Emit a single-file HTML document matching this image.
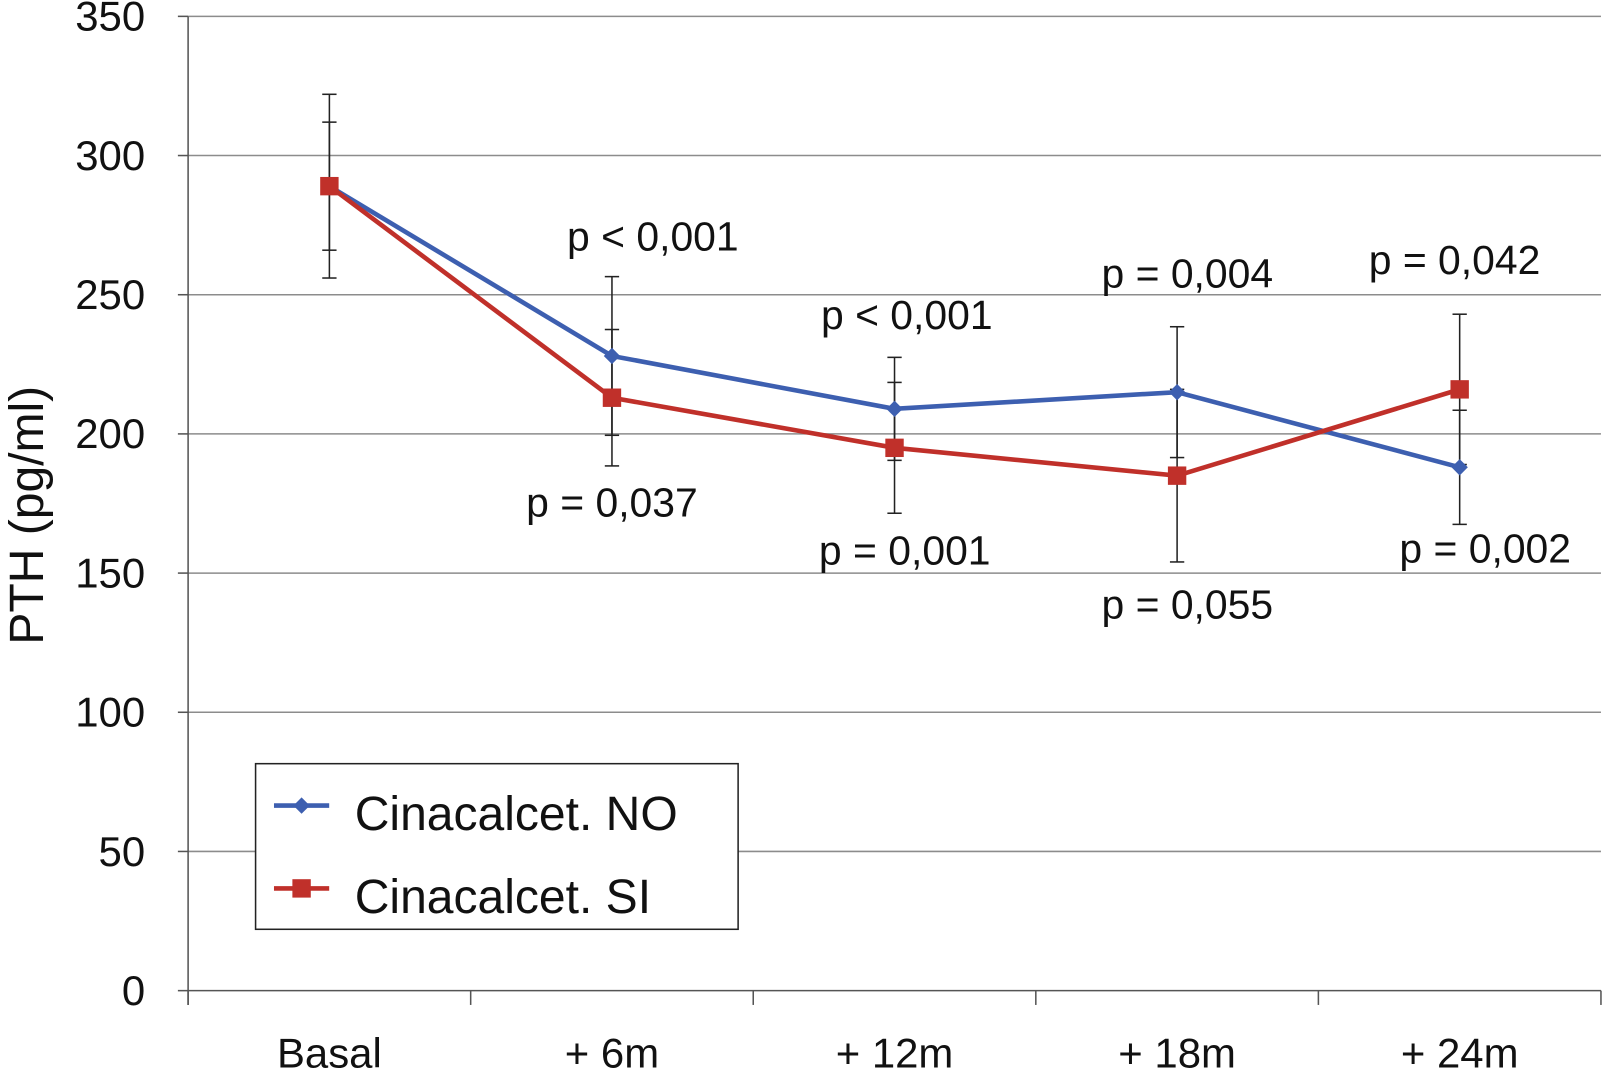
<!DOCTYPE html>
<html><head><meta charset="utf-8"><style>
body{margin:0;background:#fff}
svg{display:block;font-family:"Liberation Sans",Arial,sans-serif}
</style></head><body>
<svg id="chart" width="1603" height="1076" viewBox="0 0 1568 1052.5" preserveAspectRatio="none"></svg>
<script>
const categories=["Basal","+ 6m","+ 12m","+ 18m","+ 24m"];
const seriesNo=[289,228,209,215,188];
const seriesSi=[289,213,195,185,216];
const errNo=[33,28.5,18.5,23.5,20.5];
const errSi=[23,24.5,23.5,31,27];
const yTicks=[0,50,100,150,200,250,300,350];
const pAbove=["","p < 0,001","p < 0,001","p = 0,004","p = 0,042"];
const pBelow=["","p = 0,037","p = 0,001","p = 0,055","p = 0,002"];

const svg=document.getElementById('chart');
const NS='http://www.w3.org/2000/svg';
const X0=184,X1=1566,Y0=969,Y350=16;
const bw=(X1-X0)/categories.length;
const x=i=>X0+bw*(i+0.5);
const y=v=>Y0-(Y0-Y350)*v/350;
function mk(tag,attrs,parent){const e=document.createElementNS(NS,tag);for(const k in attrs)e.setAttribute(k,attrs[k]);(parent||svg).appendChild(e);return e;}

yTicks.forEach(t=>{
  if(t>0){const g=mk('line',{x1:X0,x2:X1,y1:y(t),y2:y(t),stroke:'#8c8c8c','stroke-width':1.5});
  
  }
  const tk=mk('line',{x1:X0-10,x2:X0,y1:y(t),y2:y(t),stroke:'#555','stroke-width':1.5});
  
  
  const tx=mk('text',{x:142,y:y(t)+14,'text-anchor':'end','font-size':41,fill:'#111'});
  tx.textContent=t;
  
  
});
const ya=mk('line',{x1:X0,x2:X0,y1:Y350,y2:Y0+14,stroke:'#555','stroke-width':1.5});


const xa=mk('line',{x1:X0,x2:X1,y1:Y0,y2:Y0,stroke:'#555','stroke-width':1.5});


for(let i=0;i<=categories.length;i++){
  const tk=mk('line',{x1:X0+bw*i,x2:X0+bw*i,y1:Y0,y2:Y0+14,stroke:'#555','stroke-width':1.5});
  
  
}
categories.forEach((c,i)=>{
  const t=mk('text',{x:x(i),y:1044,'text-anchor':'middle','font-size':41,fill:'#111'});
  t.textContent=c;
  
  
});
const yt=mk('text',{x:42,y:504,'text-anchor':'middle','font-size':47,fill:'#111',transform:'rotate(-90 42 504)'});
yt.textContent='PTH (pg/ml)';



function errBars(vals,errs,name){
  vals.forEach((v,i)=>{
    const g=mk('g',{stroke:'#222','stroke-width':1.5});
    
    
    mk('line',{x1:x(i),x2:x(i),y1:y(v+errs[i]),y2:y(v-errs[i])},g);
    mk('line',{x1:x(i)-7,x2:x(i)+7,y1:y(v+errs[i]),y2:y(v+errs[i])},g);
    mk('line',{x1:x(i)-7,x2:x(i)+7,y1:y(v-errs[i]),y2:y(v-errs[i])},g);
  });
}
errBars(seriesNo,errNo,'no');
errBars(seriesSi,errSi,'si');

function series(vals,color,name,square){
  const p=mk('polyline',{points:vals.map((v,i)=>x(i)+','+y(v)).join(' '),fill:'none',stroke:color,'stroke-width':4.5});
  
  
  vals.forEach((v,i)=>{
    let m;
    if(square) m=mk('rect',{x:x(i)-9,y:y(v)-9,width:18,height:18,fill:color});
    else m=mk('polygon',{points:`${x(i)},${y(v)-8} ${x(i)+8},${y(v)} ${x(i)},${y(v)+8} ${x(i)-8},${y(v)}`,fill:color});
    
    
  });
}
series(seriesNo,'#3d5fb0','cinacalcet-no',false);
series(seriesSi,'#c0302a','cinacalcet-si',true);

const aboveY=[0,245,322,281,268], belowY=[0,505,552,605,550], dx=[0,40,12,10,-5], dxb=[0,0,10,10,25];
pAbove.forEach((s,i)=>{ if(!s)return;
  const t=mk('text',{x:x(i)+dx[i],y:aboveY[i],'text-anchor':'middle','font-size':40,fill:'#111'});
  t.textContent=s;
  
  
});
pBelow.forEach((s,i)=>{ if(!s)return;
  const t=mk('text',{x:x(i)+dxb[i],y:belowY[i],'text-anchor':'middle','font-size':40,fill:'#111'});
  t.textContent=s;
  
  
});

const lg=mk('g',{});


mk('rect',{x:250,y:747,width:472,height:162,fill:'#fff',stroke:'#222','stroke-width':1.5},lg);
mk('line',{x1:268,x2:322,y1:788,y2:788,stroke:'#3d5fb0','stroke-width':4.5},lg);
mk('polygon',{points:'295,780 303,788 295,796 287,788',fill:'#3d5fb0'},lg);
mk('line',{x1:268,x2:322,y1:869,y2:869,stroke:'#c0302a','stroke-width':4.5},lg);
mk('rect',{x:286,y:860,width:18,height:18,fill:'#c0302a'},lg);
const l1=mk('text',{x:347,y:812,'font-size':47,fill:'#111'},lg);l1.textContent='Cinacalcet. NO';


const l2=mk('text',{x:347,y:893,'font-size':47,fill:'#111'},lg);l2.textContent='Cinacalcet. SI';


</script>
</body></html>
